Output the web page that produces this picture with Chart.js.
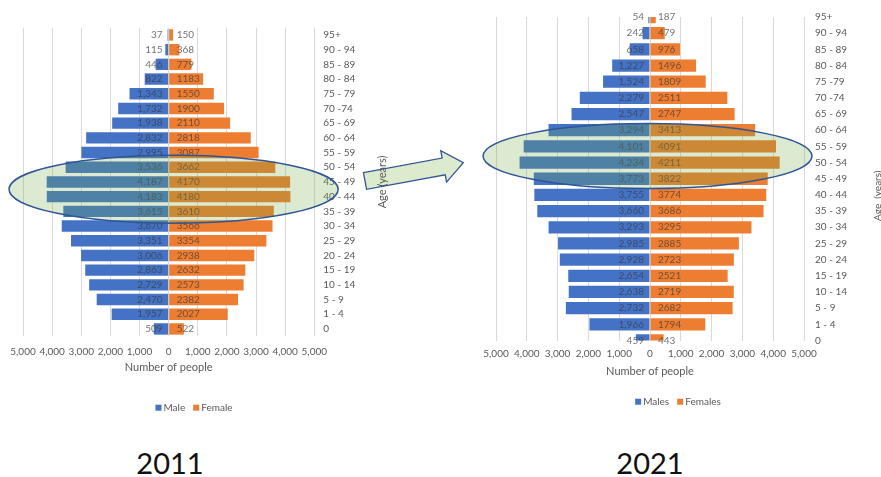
<!DOCTYPE html>
<html>
<head>
<meta charset="utf-8">
<title>Population pyramids 2011 and 2021</title>
<script src="https://cdn.jsdelivr.net/npm/chart.js@4.4.1/dist/chart.umd.min.js"></script>
<style>
  html, body { margin: 0; padding: 0; background: #fff; width: 881px; height: 477px; overflow: hidden; }
  #wrap { position: relative; width: 881px; height: 477px; font-family: Lato, "Open Sans", sans-serif; }
  #arrow { position: absolute; left: 0; top: 0; z-index: 0; }
  canvas { position: absolute; top: 0; z-index: 1; }
  #pyr2011 { left: 0; }
  #pyr2021 { left: 470px; }
  .year { position: absolute; top: 448px; font-size: 29px; line-height: 29px; color: #111; transform: translateX(-50%); z-index: 2; }
</style>
</head>
<body>
<div id="wrap">
  <svg id="arrow" width="881" height="477">
    <g transform="translate(365,181) rotate(-10.5)">
      <polygon points="0,-8.5 80,-8.5 80,-16 100,0 80,16 80,8.5 0,8.5" fill="#dcebcd" stroke="#2f5597" stroke-width="1.3" stroke-linejoin="miter"/>
    </g>
  </svg>
  <canvas id="pyr2011" width="470" height="430"></canvas>
  <canvas id="pyr2021" width="411" height="430"></canvas>
  <div class="year" style="left:170px">2011</div>
  <div class="year" style="left:650px">2021</div>
</div>
<script>
// Age bands, oldest first (top of the pyramid)
const ageGroups2011 = ['95+', '90 - 94', '85 - 89', '80 - 84', '75 - 79', '70 -74', '65 - 69', '60 - 64', '55 - 59', '50 - 54', '45 - 49', '40 - 44', '35 - 39', '30 - 34', '25 - 29', '20 - 24', '15 - 19', '10 - 14', '5 - 9', '1 - 4', '0'];
const ageGroups2021 = ['95+', '90 - 94', '85 - 89', '80 - 84', '75 -79', '70 -74', '65 - 69', '60 - 64', '55 - 59', '50 - 54', '45 - 49', '40 - 44', '35 - 39', '30 - 34', '25 - 29', '20 - 24', '15 - 19', '10 - 14', '5 - 9', '1 - 4', '0'];

// Census counts per age band
const male2011   = [37, 115, 446, 822, 1343, 1732, 1938, 2832, 2995, 3536, 4187, 4183, 3615, 3670, 3351, 3006, 2863, 2729, 2470, 1957, 509];
const female2011 = [150, 368, 779, 1183, 1550, 1900, 2110, 2818, 3087, 3662, 4170, 4180, 3610, 3566, 3354, 2938, 2632, 2573, 2382, 2027, 522];
const male2021   = [54, 242, 658, 1227, 1524, 2279, 2547, 3294, 4101, 4234, 3773, 3755, 3660, 3293, 2985, 2928, 2654, 2638, 2732, 1966, 459];
const female2021 = [187, 479, 976, 1496, 1809, 2511, 2747, 3413, 4091, 4211, 3822, 3774, 3686, 3295, 2885, 2723, 2521, 2719, 2682, 1794, 443];

// Horizontal axis ticks (males are plotted to the left of zero)
const countTicks = [-5000, -4000, -3000, -2000, -1000, 0, 1000, 2000, 3000, 4000, 5000];

const FONT = 'Lato, "Open Sans", sans-serif';
const GREY = '#595959';
const BLUE = '#4472c4';
const ORANGE = '#ed7d31';

const pyramidExtras = {
  id: 'pyramidExtras',
  afterDatasetsDraw(chart, args, opts) {
    const { ctx } = chart;
    const zero = chart.scales.x.getPixelForValue(0);
    ctx.save();
    ctx.font = '10px ' + FONT;
    ctx.fillStyle = opts.labelColor;
    ctx.textBaseline = 'middle';
    chart.data.datasets.forEach((ds, di) => {
      const meta = chart.getDatasetMeta(di);
      const isMale = di === 0;
      meta.data.forEach((bar, i) => {
        const v = Math.abs(ds.data[i]);
        ctx.textAlign = isMale ? 'right' : 'left';
        ctx.fillText(isMale ? v.toLocaleString('en-US') : String(v), isMale ? zero - 6 : zero + 8, bar.y);
      });
    });
    ctx.restore();
  },
  afterDraw(chart, args, opts) {
    const { ctx, chartArea } = chart;
    const { x, y } = chart.scales;

    // vertical axis title, reading bottom to top
    ctx.save();
    ctx.translate(opts.yTitle.x, (chartArea.top + chartArea.bottom) / 2 + opts.yTitle.dy);
    ctx.rotate(-Math.PI / 2);
    ctx.font = opts.yTitle.size + 'px ' + FONT;
    ctx.fillStyle = GREY;
    ctx.textAlign = 'center';
    ctx.textBaseline = 'middle';
    ctx.fillText(opts.yTitle.text, 0, 0);
    ctx.restore();

    // legend
    ctx.save();
    ctx.font = '10px ' + FONT;
    ctx.textBaseline = 'middle';
    ctx.textAlign = 'left';
    const box = 6, gap = 2, sep = 8;
    const items = chart.data.datasets.map(d => ({ text: d.label, color: d.backgroundColor, w: ctx.measureText(d.label).width }));
    const total = items.reduce((s, it) => s + box + gap + it.w, 0) + sep * (items.length - 1);
    let lx = opts.legend.x - total / 2;
    const ly = opts.legend.y;
    items.forEach(it => {
      ctx.fillStyle = it.color;
      ctx.fillRect(lx, ly - box / 2, box, box);
      lx += box + gap;
      ctx.fillStyle = GREY;
      ctx.fillText(it.text, lx, ly);
      lx += it.w + sep;
    });
    ctx.restore();

    // highlighted age bands: translucent green ellipse with a dark blue outline
    const h = opts.highlight;
    const row = Math.abs(y.getPixelForValue(1) - y.getPixelForValue(0));
    const cx = x.getPixelForValue(h.center);
    const cy = y.getPixelForValue(h.row);
    const rx = Math.abs(x.getPixelForValue(h.center + h.halfWidth) - cx);
    const ry = h.halfRows * row;
    ctx.save();
    ctx.beginPath();
    ctx.ellipse(cx, cy, rx, ry, 0, 0, Math.PI * 2);
    ctx.fillStyle = 'rgba(112,173,71,0.25)';
    ctx.fill();
    ctx.strokeStyle = '#2f5597';
    ctx.lineWidth = 1.5;
    ctx.stroke();
    ctx.restore();
  }
};

function pyramid(canvasId, cfg) {
  const canvas = document.getElementById(canvasId);
  const W = canvas.width, H = canvas.height;
  return new Chart(canvas, {
    type: 'bar',
    data: {
      labels: cfg.labels,
      datasets: [
        { label: cfg.maleLabel, data: cfg.male.map(v => -v), backgroundColor: BLUE, barPercentage: cfg.barPct, categoryPercentage: 1, clip: cfg.clip },
        { label: cfg.femaleLabel, data: cfg.female, backgroundColor: ORANGE, barPercentage: cfg.barPct, categoryPercentage: 1, clip: cfg.clip }
      ]
    },
    options: {
      indexAxis: 'y',
      responsive: false,
      animation: false,
      devicePixelRatio: 1,
      events: [],
      layout: { padding: { left: cfg.area.left, top: cfg.area.top, right: 0, bottom: 0 } },
      plugins: {
        legend: { display: false },
        tooltip: { enabled: false },
        pyramidExtras: {
          labelColor: 'rgba(60,60,60,0.72)',
          yTitle: cfg.yTitle,
          legend: cfg.legend,
          highlight: cfg.highlight
        }
      },
      scales: {
        x: {
          stacked: true,
          min: countTicks[0],
          max: countTicks[countTicks.length - 1],
          afterBuildTicks: s => { s.ticks = countTicks.map(v => ({ value: v })); },
          ticks: {
            callback: v => Math.abs(v).toLocaleString('en-US'),
            color: GREY,
            font: { family: FONT, size: 10 },
            padding: cfg.xTickPad,
            maxRotation: 0,
            autoSkip: false
          },
          grid: { color: '#d9d9d9', drawTicks: false, lineWidth: 1 },
          border: { display: false },
          title: {
            display: true,
            text: 'Number of people',
            color: GREY,
            font: { family: FONT, size: 11 },
            padding: { top: 0, bottom: cfg.xTitlePad }
          },
          afterFit: s => { s.height = H - cfg.area.bottom; }
        },
        y: {
          stacked: true,
          position: 'right',
          offset: cfg.offset,
          grid: { display: false, drawTicks: false },
          border: { display: false },
          ticks: { autoSkip: false, padding: cfg.yTickPad, color: GREY, font: { family: FONT, size: 10 } },
          afterFit: s => { s.width = W - cfg.area.right; }
        }
      }
    },
    plugins: [pyramidExtras]
  });
}

pyramid('pyr2011', {
  labels: ageGroups2011,
  male: male2011,
  female: female2011,
  maleLabel: 'Male',
  femaleLabel: 'Female',
  barPct: 0.776,
  offset: true,
  clip: false,
  area: { left: 23, right: 314.3, top: 27.6, bottom: 336.3 },
  xTickPad: 9,
  xTitlePad: 55.7,
  yTickPad: 9,
  yTitle: { text: 'Age (years)', x: 382, dy: 0, size: 11 },
  legend: { x: 194, y: 407.7 },
  highlight: { center: 170, halfWidth: 5650, row: 10.5, halfRows: 2.31 }
});

pyramid('pyr2021', {
  labels: ageGroups2021,
  male: male2021,
  female: female2021,
  maleLabel: 'Males',
  femaleLabel: 'Females',
  barPct: 0.76,
  offset: false,
  clip: 0,
  area: { left: 26, right: 334, top: 16.7, bottom: 340.5 },
  xTickPad: 7,
  xTitlePad: 51.7,
  yTickPad: 11,
  yTitle: { text: 'Age  (years)', x: 408, dy: 17, size: 10 },
  legend: { x: 208, y: 401.7 },
  highlight: { center: -80, halfWidth: 5340, row: 8.6, halfRows: 2.01 }
});
</script>
</body>
</html>
